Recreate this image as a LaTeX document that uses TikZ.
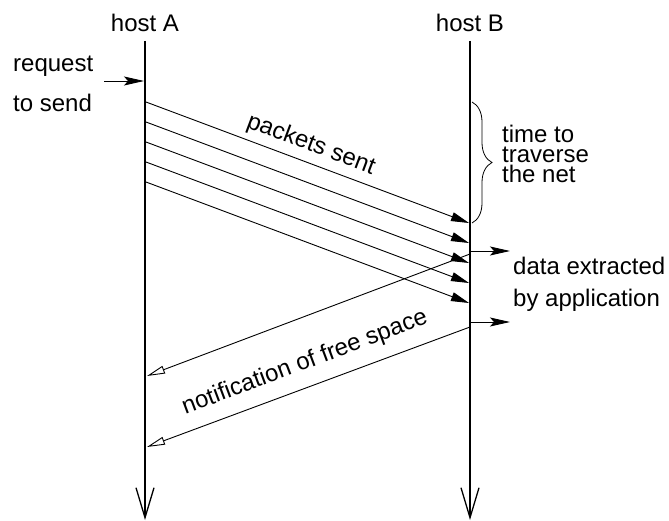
\documentclass[tikz,border=0pt]{standalone}
\usepackage{fontspec}
\setmainfont{Liberation Sans}
\usetikzlibrary{arrows.meta,decorations.pathreplacing}
\tikzset{
  lbl/.style={inner sep=0pt},
  hostline/.style={line width=2pt, -{Straight Barb[length=30pt,width=18pt,line width=1.3pt]}},
  pkt/.style={line width=0.9pt, -{Triangle[length=18pt,width=9pt]}},
  notif/.style={line width=0.9pt, -{Triangle[open,length=18pt,width=8pt,fill=white]}},
  outarrow/.style={line width=0.9pt, -{Stealth[length=20pt,width=9pt,inset=4pt]}},
  reqarrow/.style={line width=0.9pt, -{Stealth[length=20pt,width=9pt,inset=4pt]}},
  bracestyle/.style={line width=0.8pt, decorate, decoration={brace, amplitude=20pt}},
}
\begin{document}
\begin{tikzpicture}[x=1pt,y=-1pt,font=\fontsize{24}{28}\selectfont]
\useasboundingbox (0,0) rectangle (669,521);

% host labels
\node[lbl, anchor=base] (hA) at (145,32) {host A};
\node[lbl, anchor=base] (hB) at (470,32) {host B};

% time lines
\coordinate (A0) at (145,41);
\coordinate (A1) at (145,520);
\coordinate (B0) at (470,41);
\coordinate (B1) at (470,520);
\draw[hostline] (A0) -- (A1);
\draw[hostline] (B0) -- (B1);

% request to send
\node[lbl, anchor=base west] (req1) at (13,72) {request};
\node[lbl, anchor=base west] (req2) at (13,112) {to send};
\coordinate (r0) at (104,81);
\coordinate (r1) at (144,81);
\draw[reqarrow] (r0) -- (r1);

% packets
\foreach \i in {0,...,4}{
  \coordinate (ps\i) at (146,{102+20*\i});
  \coordinate (pe\i) at (469,{223+20*\i});
  \draw[pkt] (ps\i) -- (pe\i);
}
\node[lbl, rotate=-20.5] (pkts) at (311,145) {packets sent};

% brace
\coordinate (br0) at (472,102);
\coordinate (br1) at (472,223);
\draw[bracestyle] (br0) -- (br1);
\node[lbl, anchor=base west] (tt1) at (502,143) {time to};
\node[lbl, anchor=base west] (tt2) at (502,163) {traverse};
\node[lbl, anchor=base west] (tt3) at (502,183) {the net};

% data extracted
\coordinate (d0s) at (471,251);
\coordinate (d0e) at (510,251);
\coordinate (d1s) at (471,322);
\coordinate (d1e) at (510,322);
\draw[outarrow] (d0s) -- (d0e);
\draw[outarrow] (d1s) -- (d1e);
\node[lbl, anchor=base west] (de1) at (513,275) {data extracted};
\node[lbl, anchor=base west] (de2) at (513,306) {by application};

% notifications
\coordinate (n0s) at (470,254);
\coordinate (n0e) at (147,376);
\coordinate (n1s) at (470,327);
\coordinate (n1e) at (147,447);
\draw[notif] (n0s) -- (n0e);
\draw[notif] (n1s) -- (n1e);
\node[lbl, rotate=20.6] (notf) at (305,363) {notification of free space};
\end{tikzpicture}
\end{document}
